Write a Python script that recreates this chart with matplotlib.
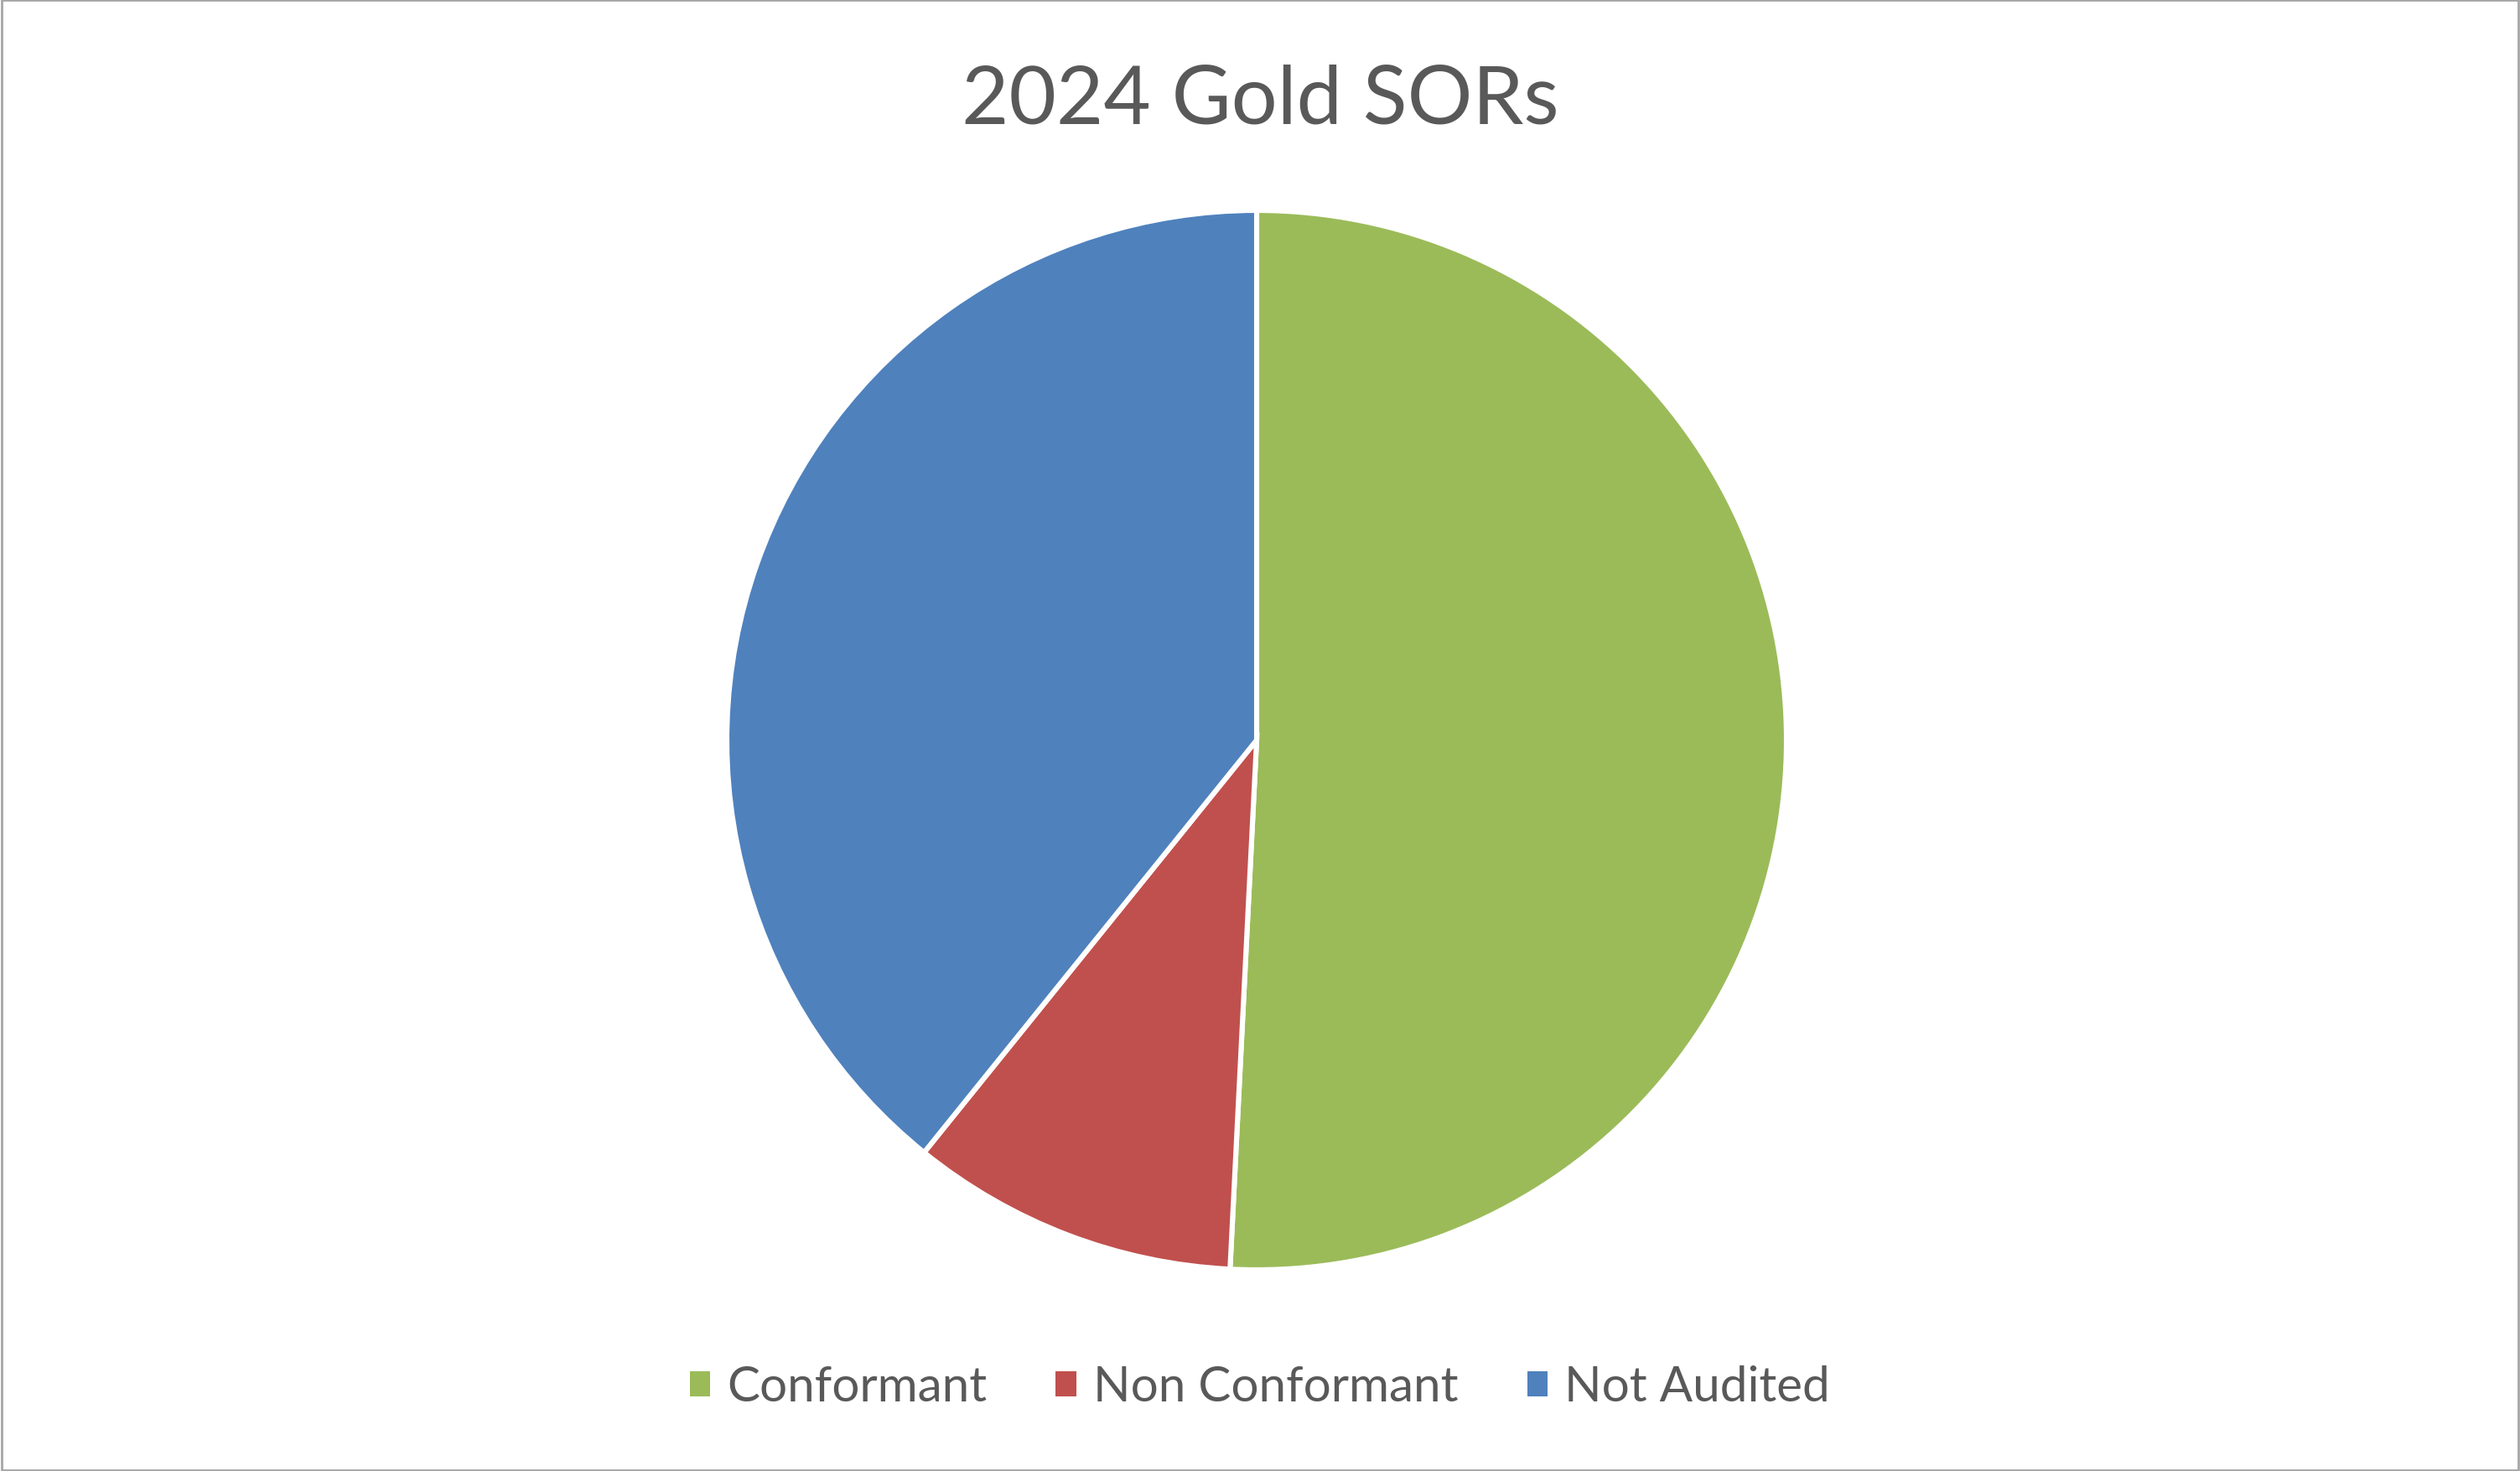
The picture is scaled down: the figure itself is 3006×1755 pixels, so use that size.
import matplotlib
matplotlib.use("Agg")
import matplotlib.pyplot as plt
from matplotlib.patches import Patch, Rectangle

# data (share of SORs, %)
labels = ["Conformant", "Non Conformant", "Not Audited"]
shares = [50.8, 10.0, 39.2]
colors = ["#9BBB59", "#C0504D", "#4F81BD"]

TEXT = "#595959"
plt.rcParams["font.family"] = ["Lato", "DejaVu Sans"]

W, H, DPI = 3006, 1756, 200
fig = plt.figure(figsize=(W / DPI, H / DPI), dpi=DPI)

# pie placement in pixels (centre, radius)
cx, cy, r = 1499, 884, 632
ax = fig.add_axes([(cx - r) / W, (H - cy - r) / H, 2 * r / W, 2 * r / H])
ax.pie(shares, colors=colors, startangle=90, counterclock=False, radius=1.0,
       wedgeprops=dict(edgecolor="white", linewidth=2.2))
ax.set_xlim(-1.0, 1.0)
ax.set_ylim(-1.0, 1.0)
ax.set_aspect("equal")
ax.axis("off")

fig.text(0.5, 1 - 148 / H, "2024 Gold SORs", ha="center", va="baseline",
         fontsize=35, color=TEXT)

handles = [Patch(facecolor=c, edgecolor="none") for c in colors]
fig.legend(handles, labels, loc="center", bbox_to_anchor=(0.5, 1 - 1656 / H),
           ncol=3, frameon=False, fontsize=21, labelcolor=TEXT,
           handlelength=0.42, handleheight=0.42, handletextpad=0.35,
           columnspacing=1.4)

# thin chart border
fig.patches.append(Rectangle((0.0005, 0.0008), 0.999, 0.9985, transform=fig.transFigure,
                             fill=False, edgecolor="#A6A6A6", linewidth=1.0))

fig.savefig("out.png", dpi=DPI, facecolor="white")
